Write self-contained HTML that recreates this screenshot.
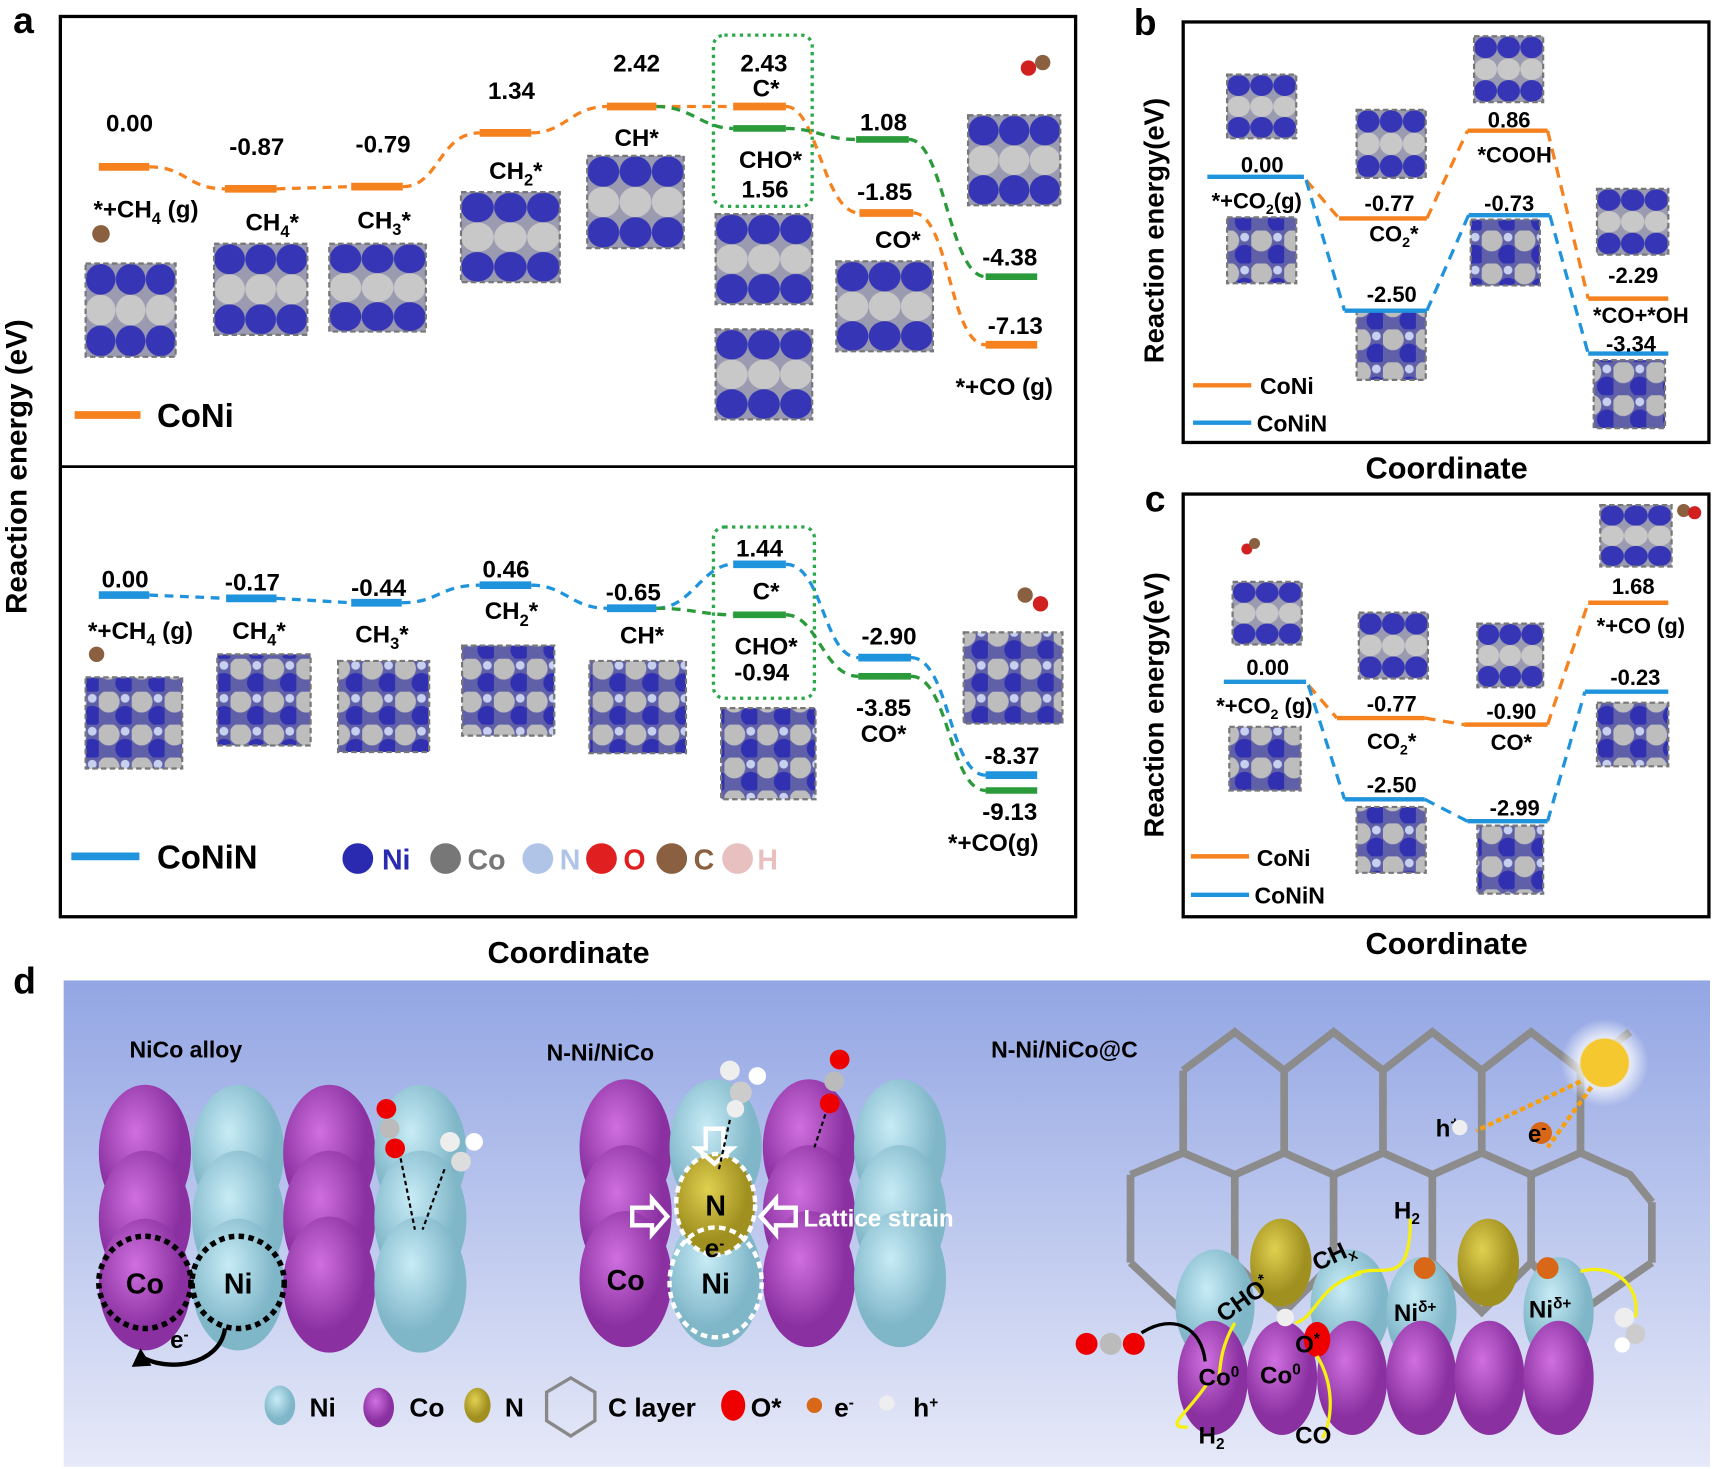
<!DOCTYPE html>
<html><head><meta charset="utf-8"><style>html,body{margin:0;padding:0;background:#fff}svg{display:block}text{font-family:"Liberation Sans",Arial,sans-serif;font-weight:bold;fill:#000}</style></head>
<body>
<svg width="1721" height="1469" viewBox="0 0 1568 1338" preserveAspectRatio="none" xmlns="http://www.w3.org/2000/svg">
<defs>
<pattern id="s1" width="0.3333" height="1" patternUnits="objectBoundingBox" patternContentUnits="objectBoundingBox"><rect width="0.3333" height="1" fill="#9a9ab0"/><ellipse cx="0.1667" cy="0.17" rx="0.165" ry="0.165" fill="#3535b5"/><ellipse cx="0.1667" cy="0.5" rx="0.165" ry="0.165" fill="#c8c8c8"/><ellipse cx="0.1667" cy="0.83" rx="0.165" ry="0.165" fill="#3535b5"/></pattern>
<pattern id="s2" width="30" height="30" patternUnits="userSpaceOnUse"><rect width="30" height="30" fill="#6060a8"/><circle cx="9" cy="9" r="10" fill="#bdbdbd"/><circle cx="24" cy="22" r="9" fill="#3030b0"/><circle cx="24" cy="6" r="4" fill="#c8d0f0"/></pattern>
<radialGradient id="gp" cx="40%" cy="35%"><stop offset="0" stop-color="#d070e0"/><stop offset="1" stop-color="#8a30a0"/></radialGradient>
<radialGradient id="gb" cx="40%" cy="35%"><stop offset="0" stop-color="#c8ecf6"/><stop offset="1" stop-color="#7fb6c8"/></radialGradient>
<radialGradient id="gy" cx="40%" cy="35%"><stop offset="0" stop-color="#e0d050"/><stop offset="1" stop-color="#a09020"/></radialGradient>
<radialGradient id="gs" cx="50%" cy="50%"><stop offset="0" stop-color="#fff8c0"/><stop offset="0.4" stop-color="#f5cc30"/><stop offset="0.6" stop-color="#fff" stop-opacity="0.7"/><stop offset="1" stop-color="#fff" stop-opacity="0"/></radialGradient>
<linearGradient id="bg" x1="0" y1="0" x2="0" y2="1"><stop offset="0" stop-color="#93a6e4"/><stop offset="1" stop-color="#e6e9f8"/></linearGradient>
</defs>

<!-- Panel a -->
<text x="12" y="30" font-size="34">a</text>
<rect x="55" y="15" width="925" height="820" fill="none" stroke="#000" stroke-width="3"/>
<line x1="55" y1="425" x2="980" y2="425" stroke="#000" stroke-width="2.5"/>
<text transform="translate(24,425) rotate(-90)" text-anchor="middle" font-size="27">Reaction energy (eV)</text>
<text x="518" y="877" text-anchor="middle" font-size="28">Coordinate</text>

<g fill="url(#s1)" stroke="#777" stroke-width="2" stroke-dasharray="5,3">
<rect x="78" y="240" width="82" height="85"/><rect x="195" y="222" width="85" height="83"/><rect x="300" y="222" width="88" height="80"/><rect x="420" y="175" width="90" height="82"/><rect x="535" y="142" width="88" height="84"/><rect x="652" y="195" width="88" height="82"/><rect x="652" y="300" width="88" height="82"/><rect x="762" y="238" width="88" height="82"/><rect x="882" y="105" width="84" height="82"/>
</g>
<g fill="url(#s2)" stroke="#777" stroke-width="2" stroke-dasharray="5,3">
<rect x="78" y="617" width="88" height="83"/><rect x="198" y="596" width="85" height="83"/><rect x="308" y="602" width="83" height="83"/><rect x="421" y="588" width="84" height="82"/><rect x="537" y="602" width="88" height="84"/><rect x="657" y="645" width="86" height="83"/><rect x="878" y="576" width="90" height="83"/>
</g>
<rect x="650" y="32" width="90" height="156" rx="10" fill="none" stroke="#2aa84a" stroke-width="3" stroke-dasharray="3,4"/>
<rect x="650" y="480" width="92" height="156" rx="10" fill="none" stroke="#2aa84a" stroke-width="3" stroke-dasharray="3,4"/>

<g fill="none" stroke-width="3" stroke-dasharray="8,6">
<path d="M136,152 C170,152 170,172 205,172 M252,172 L320,170 M367,170 C400,170 400,121 437,121 M484,121 C515,121 520,97 553,97 M598,97 L668,97 M716,97 C745,97 750,194 783,194 M832,194 C865,194 865,314 898,314" stroke="#f5821f"/>
<path d="M598,97 C630,97 640,117 668,117 M716,117 C745,117 750,127 780,127 M828,127 C860,127 865,252 898,252" stroke="#2a9a3a"/>
<path d="M136,542 L206,545 M252,545 L320,549 M366,549 C400,549 400,533 437,533 M484,533 C515,533 520,554 553,554 M598,554 C630,554 640,514 668,514 M716,514 C750,514 750,599 782,599 M830,599 C865,599 865,706 898,706" stroke="#1f93dc"/>
<path d="M598,554 C630,554 640,560 668,560 M716,560 C745,560 750,616 782,616 M830,616 C865,616 865,720 898,720" stroke="#2a9a3a"/>
</g>
<g stroke-width="7" stroke="#f5821f">
<line x1="90" y1="152" x2="136" y2="152"/><line x1="205" y1="172" x2="252" y2="172"/><line x1="320" y1="170" x2="367" y2="170"/><line x1="437" y1="121" x2="484" y2="121"/><line x1="553" y1="97" x2="598" y2="97"/><line x1="668" y1="97" x2="716" y2="97"/><line x1="783" y1="194" x2="832" y2="194"/><line x1="898" y1="314" x2="945" y2="314"/><line x1="68" y1="378" x2="128" y2="378"/>
</g>
<g stroke-width="6" stroke="#2a9a3a"><line x1="668" y1="117" x2="716" y2="117"/><line x1="780" y1="127" x2="828" y2="127"/><line x1="898" y1="252" x2="945" y2="252"/><line x1="668" y1="560" x2="716" y2="560"/><line x1="782" y1="616" x2="830" y2="616"/><line x1="898" y1="720" x2="945" y2="720"/></g>
<g stroke-width="7" stroke="#1f93dc"><line x1="90" y1="542" x2="136" y2="542"/><line x1="206" y1="545" x2="252" y2="545"/><line x1="320" y1="549" x2="366" y2="549"/><line x1="437" y1="533" x2="484" y2="533"/><line x1="553" y1="554" x2="598" y2="554"/><line x1="668" y1="514" x2="716" y2="514"/><line x1="782" y1="599" x2="830" y2="599"/><line x1="898" y1="706" x2="945" y2="706"/><line x1="65" y1="780" x2="127" y2="780"/></g>

<g font-size="22" text-anchor="middle">
<text x="118" y="120">0.00</text><text x="234" y="141">-0.87</text><text x="349" y="139">-0.79</text><text x="466" y="90">1.34</text><text x="580" y="65">2.42</text><text x="696" y="65">2.43</text><text x="698" y="88">C*</text><text x="702" y="153">CHO*</text><text x="697" y="180">1.56</text><text x="805" y="119">1.08</text><text x="806" y="182">-1.85</text><text x="818" y="226">CO*</text><text x="920" y="242">-4.38</text><text x="925" y="304">-7.13</text><text x="915" y="360">*+CO (g)</text>
<text x="133" y="198">*+CH<tspan font-size="15" dy="6">4</tspan><tspan dy="-6"> (g)</tspan></text><text x="248" y="210">CH<tspan font-size="15" dy="6">4</tspan><tspan dy="-6">*</tspan></text><text x="350" y="208">CH<tspan font-size="15" dy="6">3</tspan><tspan dy="-6">*</tspan></text><text x="470" y="163">CH<tspan font-size="15" dy="6">2</tspan><tspan dy="-6">*</tspan></text><text x="580" y="133">CH*</text>
<text x="114" y="535">0.00</text><text x="230" y="538">-0.17</text><text x="345" y="543">-0.44</text><text x="461" y="526">0.46</text><text x="577" y="547">-0.65</text><text x="692" y="507">1.44</text><text x="698" y="546">C*</text><text x="698" y="596">CHO*</text><text x="694" y="620">-0.94</text><text x="810" y="587">-2.90</text><text x="805" y="652">-3.85</text><text x="805" y="676">CO*</text><text x="922" y="696">-8.37</text><text x="920" y="747">-9.13</text><text x="905" y="775">*+CO(g)</text>
<text x="128" y="582">*+CH<tspan font-size="15" dy="6">4</tspan><tspan dy="-6"> (g)</tspan></text><text x="236" y="582">CH<tspan font-size="15" dy="6">4</tspan><tspan dy="-6">*</tspan></text><text x="348" y="585">CH<tspan font-size="15" dy="6">3</tspan><tspan dy="-6">*</tspan></text><text x="466" y="564">CH<tspan font-size="15" dy="6">2</tspan><tspan dy="-6">*</tspan></text><text x="585" y="586">CH*</text>
</g>
<text x="143" y="389" font-size="30">CoNi</text>
<text x="143" y="791" font-size="30">CoNiN</text>
<g font-size="26"><circle cx="326" cy="782" r="14" fill="#2a2ab0"/><text x="348" y="792" style="fill:#2a2ab0">Ni</text>
<circle cx="406" cy="782" r="14" fill="#777"/><text x="426" y="792" style="fill:#777">Co</text>
<circle cx="490" cy="782" r="14" fill="#b0c4e8"/><text x="510" y="792" style="fill:#b0c4e8">N</text>
<circle cx="548" cy="782" r="14" fill="#e02020"/><text x="568" y="792" style="fill:#e02020">O</text>
<circle cx="612" cy="782" r="14" fill="#8a6040"/><text x="632" y="792" style="fill:#8a6040">C</text>
<circle cx="672" cy="782" r="14" fill="#e8c0c0"/><text x="690" y="792" style="fill:#e8c0c0">H</text></g>
<circle cx="937" cy="62" r="7" fill="#d02020"/><circle cx="950" cy="57" r="7" fill="#8a6040"/>
<circle cx="934" cy="542" r="7" fill="#8a6040"/><circle cx="948" cy="550" r="7" fill="#d02020"/>
<circle cx="92" cy="213" r="8" fill="#8a6040"/><circle cx="88" cy="596" r="7" fill="#8a6040"/>

<!-- Panel b -->
<text x="1033" y="32" font-size="34">b</text>
<rect x="1078" y="20" width="479" height="383" fill="none" stroke="#000" stroke-width="3"/>
<text transform="translate(1060,210) rotate(-90)" text-anchor="middle" font-size="25">Reaction energy(eV)</text>
<text x="1318" y="436" text-anchor="middle" font-size="28">Coordinate</text>
<g stroke="#777" stroke-width="2" stroke-dasharray="5,3"><rect x="1118" y="68" width="63" height="58" fill="url(#s1)"/><rect x="1118" y="198" width="63" height="60" fill="url(#s2)"/><rect x="1236" y="100" width="63" height="62" fill="url(#s1)"/><rect x="1236" y="283" width="63" height="63" fill="url(#s2)"/><rect x="1343" y="33" width="63" height="60" fill="url(#s1)"/><rect x="1340" y="200" width="63" height="60" fill="url(#s2)"/><rect x="1455" y="172" width="65" height="60" fill="url(#s1)"/><rect x="1452" y="328" width="65" height="62" fill="url(#s2)"/></g>
<g fill="none" stroke-width="3" stroke-dasharray="10,7"><path d="M1190,164 L1220,199 M1300,199 L1337,119 M1410,119 L1447,272" stroke="#f5821f"/><path d="M1190,164 L1225,283 M1300,283 L1338,196 M1412,196 L1447,322" stroke="#1f93dc"/></g>
<g stroke-width="4"><line x1="1100" y1="161" x2="1188" y2="161" stroke="#1f93dc"/><line x1="1220" y1="199" x2="1300" y2="199" stroke="#f5821f"/><line x1="1337" y1="119" x2="1410" y2="119" stroke="#f5821f"/><line x1="1447" y1="272" x2="1520" y2="272" stroke="#f5821f"/><line x1="1225" y1="283" x2="1300" y2="283" stroke="#1f93dc"/><line x1="1338" y1="196" x2="1412" y2="196" stroke="#1f93dc"/><line x1="1447" y1="322" x2="1520" y2="322" stroke="#1f93dc"/><line x1="1087" y1="351" x2="1140" y2="351" stroke="#f5821f"/><line x1="1087" y1="385" x2="1140" y2="385" stroke="#1f93dc"/></g>
<g font-size="20" text-anchor="middle"><text x="1150" y="157">0.00</text><text x="1145" y="190">*+CO<tspan font-size="13" dy="5">2</tspan><tspan dy="-5">(g)</tspan></text><text x="1266" y="192">-0.77</text><text x="1270" y="220">CO<tspan font-size="13" dy="5">2</tspan><tspan dy="-5">*</tspan></text><text x="1375" y="116">0.86</text><text x="1380" y="148">*COOH</text><text x="1375" y="192">-0.73</text><text x="1268" y="275">-2.50</text><text x="1488" y="258">-2.29</text><text x="1495" y="294">*CO+*OH</text><text x="1486" y="320">-3.34</text></g>
<text x="1148" y="359" font-size="21">CoNi</text><text x="1145" y="393" font-size="21">CoNiN</text>

<!-- Panel c -->
<text x="1043" y="466" font-size="34">c</text>
<rect x="1078" y="450" width="479" height="385" fill="none" stroke="#000" stroke-width="3"/>
<text transform="translate(1060,642) rotate(-90)" text-anchor="middle" font-size="25">Reaction energy(eV)</text>
<text x="1318" y="869" text-anchor="middle" font-size="28">Coordinate</text>
<g stroke="#777" stroke-width="2" stroke-dasharray="5,3"><rect x="1123" y="530" width="63" height="57" fill="url(#s1)"/><rect x="1120" y="662" width="65" height="58" fill="url(#s2)"/><rect x="1238" y="558" width="63" height="60" fill="url(#s1)"/><rect x="1236" y="735" width="63" height="60" fill="url(#s2)"/><rect x="1346" y="568" width="60" height="58" fill="url(#s1)"/><rect x="1346" y="752" width="60" height="62" fill="url(#s2)"/><rect x="1458" y="460" width="65" height="56" fill="url(#s1)"/><rect x="1455" y="640" width="65" height="58" fill="url(#s2)"/></g>
<g fill="none" stroke-width="3" stroke-dasharray="10,7"><path d="M1192,624 L1218,654 M1298,654 L1334,660 M1410,660 L1447,549" stroke="#f5821f"/><path d="M1192,624 L1225,728 M1298,728 L1337,748 M1410,748 L1444,630" stroke="#1f93dc"/></g>
<g stroke-width="4"><line x1="1115" y1="621" x2="1190" y2="621" stroke="#1f93dc"/><line x1="1218" y1="654" x2="1298" y2="654" stroke="#f5821f"/><line x1="1334" y1="660" x2="1410" y2="660" stroke="#f5821f"/><line x1="1447" y1="549" x2="1520" y2="549" stroke="#f5821f"/><line x1="1225" y1="728" x2="1298" y2="728" stroke="#1f93dc"/><line x1="1337" y1="748" x2="1410" y2="748" stroke="#1f93dc"/><line x1="1444" y1="630" x2="1520" y2="630" stroke="#1f93dc"/><line x1="1085" y1="780" x2="1138" y2="780" stroke="#f5821f"/><line x1="1085" y1="815" x2="1138" y2="815" stroke="#1f93dc"/></g>
<g font-size="20" text-anchor="middle"><text x="1155" y="615">0.00</text><text x="1152" y="650">*+CO<tspan font-size="13" dy="5">2</tspan><tspan dy="-5"> (g)</tspan></text><text x="1268" y="648">-0.77</text><text x="1268" y="682">CO<tspan font-size="13" dy="5">2</tspan><tspan dy="-5">*</tspan></text><text x="1377" y="655">-0.90</text><text x="1377" y="683">CO*</text><text x="1488" y="541">1.68</text><text x="1495" y="577">*+CO (g)</text><text x="1490" y="624">-0.23</text><text x="1268" y="722">-2.50</text><text x="1380" y="743">-2.99</text></g>
<text x="1145" y="789" font-size="21">CoNi</text><text x="1143" y="823" font-size="21">CoNiN</text>
<circle cx="1136" cy="500" r="5" fill="#d02020"/><circle cx="1143" cy="495" r="5" fill="#8a6040"/><circle cx="1534" cy="465" r="6" fill="#8a6040"/><circle cx="1544" cy="467" r="6" fill="#d02020"/>

<!-- Panel d -->
<text x="12" y="905" font-size="34">d</text>
<rect x="58" y="893" width="1500" height="443" fill="url(#bg)"/>
<g font-size="21"><text x="118" y="963">NiCo alloy</text><text x="498" y="966">N-Ni/NiCo</text><text x="903" y="963">N-Ni/NiCo@C</text></g>
<g>
<ellipse cx="132" cy="1050" rx="42" ry="62" fill="url(#gp)"/><ellipse cx="217" cy="1050" rx="42" ry="62" fill="url(#gb)"/><ellipse cx="300" cy="1050" rx="42" ry="62" fill="url(#gp)"/><ellipse cx="383" cy="1050" rx="42" ry="62" fill="url(#gb)"/>
<ellipse cx="132" cy="1110" rx="42" ry="62" fill="url(#gp)"/><ellipse cx="217" cy="1110" rx="42" ry="62" fill="url(#gb)"/><ellipse cx="300" cy="1110" rx="42" ry="62" fill="url(#gp)"/><ellipse cx="383" cy="1110" rx="42" ry="62" fill="url(#gb)"/>
<ellipse cx="132" cy="1170" rx="42" ry="60" fill="url(#gp)"/><ellipse cx="217" cy="1170" rx="42" ry="60" fill="url(#gb)"/><ellipse cx="300" cy="1170" rx="42" ry="62" fill="url(#gp)"/><ellipse cx="383" cy="1170" rx="42" ry="62" fill="url(#gb)"/>
<circle cx="132" cy="1168" r="42" fill="none" stroke="#000" stroke-width="5" stroke-dasharray="5,4"/><circle cx="217" cy="1168" r="42" fill="none" stroke="#000" stroke-width="5" stroke-dasharray="5,4"/>
<text x="132" y="1178" text-anchor="middle" font-size="26">Co</text><text x="217" y="1178" text-anchor="middle" font-size="26">Ni</text>
<path d="M205,1210 C200,1245 150,1250 128,1235" fill="none" stroke="#000" stroke-width="4"/><path d="M120,1245 L128,1228 L138,1244 Z" fill="#000"/>
<text x="155" y="1228" font-size="22">e<tspan font-size="14" dy="-8">-</tspan></text>
<circle cx="352" cy="1010" r="9" fill="#e00"/><circle cx="355" cy="1028" r="9" fill="#bbb"/><circle cx="360" cy="1046" r="9" fill="#e00"/>
<circle cx="410" cy="1040" r="9" fill="#eee"/><circle cx="420" cy="1058" r="9" fill="#ddd"/><circle cx="432" cy="1040" r="8" fill="#fff"/>
<path d="M365,1055 L378,1120 M405,1065 L385,1120" stroke="#000" stroke-width="2" stroke-dasharray="4,3"/>
</g>
<g>
<ellipse cx="570" cy="1045" rx="42" ry="62" fill="url(#gp)"/><ellipse cx="652" cy="1045" rx="42" ry="62" fill="url(#gb)"/><ellipse cx="737" cy="1045" rx="42" ry="62" fill="url(#gp)"/><ellipse cx="820" cy="1045" rx="42" ry="62" fill="url(#gb)"/>
<ellipse cx="570" cy="1105" rx="42" ry="62" fill="url(#gp)"/><ellipse cx="737" cy="1105" rx="42" ry="62" fill="url(#gp)"/><ellipse cx="820" cy="1105" rx="42" ry="62" fill="url(#gb)"/>
<ellipse cx="570" cy="1165" rx="42" ry="62" fill="url(#gp)"/><ellipse cx="652" cy="1165" rx="42" ry="62" fill="url(#gb)"/><ellipse cx="737" cy="1165" rx="42" ry="62" fill="url(#gp)"/><ellipse cx="820" cy="1165" rx="42" ry="62" fill="url(#gb)"/>
<ellipse cx="652" cy="1097" rx="36" ry="46" fill="url(#gy)" stroke="#fff" stroke-width="4" stroke-dasharray="6,4"/>
<ellipse cx="652" cy="1168" rx="42" ry="50" fill="none" stroke="#fff" stroke-width="4" stroke-dasharray="6,4"/>
<text x="652" y="1107" text-anchor="middle" font-size="26">N</text><text x="652" y="1178" text-anchor="middle" font-size="26">Ni</text><text x="570" y="1175" text-anchor="middle" font-size="26">Co</text>
<text x="642" y="1145" font-size="24">e<tspan font-size="14" dy="-8">-</tspan></text>
<path d="M643,1028 h16 v18 h8 l-16,14 l-16,-14 h8 z" fill="none" stroke="#fff" stroke-width="4"/>
<path d="M576,1100 h18 v-8 l14,16 l-14,16 v-8 h-18 z" fill="none" stroke="#fff" stroke-width="4"/>
<path d="M725,1100 h-18 v-8 l-14,16 l14,16 v-8 h18 z" fill="none" stroke="#fff" stroke-width="4"/>
<text x="732" y="1117" font-size="22" style="fill:#fff">Lattice strain</text>
<circle cx="665" cy="975" r="9" fill="#eee"/><circle cx="675" cy="995" r="10" fill="#ccc"/><circle cx="690" cy="980" r="8" fill="#fff"/><circle cx="670" cy="1010" r="8" fill="#eee"/>
<circle cx="765" cy="965" r="9" fill="#e00"/><circle cx="760" cy="985" r="9" fill="#bbb"/><circle cx="756" cy="1005" r="9" fill="#e00"/>
<path d="M665,1020 L655,1065 M752,1015 L742,1045" stroke="#000" stroke-width="2" stroke-dasharray="4,3"/>
</g>
<g fill="none" stroke="#8c8c8c" stroke-width="7" transform="translate(0,-15)">
<path d="M1078,990 L1125,955 L1170,990 L1215,955 L1260,990 L1305,955 L1350,990 L1395,955 L1440,990 L1485,955"/>
<path d="M1078,990 V1065 M1170,990 V1065 M1260,990 V1065 M1350,990 V1065 M1440,990 V1065"/>
<path d="M1030,1085 L1078,1065 L1125,1085 L1170,1065 L1215,1085 L1260,1065 L1305,1085 L1350,1065 L1395,1085 L1440,1065 L1485,1085 L1505,1110"/>
<path d="M1030,1085 V1165 M1125,1085 V1165 M1215,1085 V1165 M1305,1085 V1165 M1395,1085 V1165 M1505,1110 V1165"/>
<path d="M1030,1165 L1078,1210 L1125,1165 L1170,1210 L1215,1165 L1260,1210 L1305,1165 L1350,1210 L1395,1165 L1440,1210 L1505,1165"/>
</g>
<circle cx="1462" cy="968" r="40" fill="url(#gs)"/><circle cx="1462" cy="968" r="22" fill="#f5c830"/>
<path d="M1440,985 L1345,1030 M1450,990 L1410,1045" stroke="#f5a010" stroke-width="4" stroke-dasharray="5,3"/>
<text x="1308" y="1035" font-size="22">h<tspan font-size="14" dy="-8">+</tspan></text><circle cx="1330" cy="1027" r="7" fill="#eee"/>
<circle cx="1404" cy="1032" r="10" fill="#d86818"/><text x="1392" y="1040" font-size="22">e<tspan font-size="14" dy="-8">-</tspan></text>
<g>
<ellipse cx="1107" cy="1190" rx="36" ry="52" fill="url(#gb)"/><ellipse cx="1230" cy="1190" rx="36" ry="52" fill="url(#gb)"/><ellipse cx="1295" cy="1195" rx="32" ry="50" fill="url(#gb)"/><ellipse cx="1420" cy="1195" rx="32" ry="50" fill="url(#gb)"/>
<ellipse cx="1167" cy="1150" rx="28" ry="40" fill="url(#gy)"/><ellipse cx="1356" cy="1150" rx="28" ry="40" fill="url(#gy)"/>
<ellipse cx="1105" cy="1255" rx="32" ry="52" fill="url(#gp)"/><ellipse cx="1168" cy="1255" rx="32" ry="52" fill="url(#gp)"/><ellipse cx="1232" cy="1255" rx="32" ry="52" fill="url(#gp)"/><ellipse cx="1295" cy="1255" rx="32" ry="52" fill="url(#gp)"/><ellipse cx="1357" cy="1255" rx="32" ry="52" fill="url(#gp)"/><ellipse cx="1420" cy="1255" rx="32" ry="52" fill="url(#gp)"/>
<circle cx="1298" cy="1155" r="10" fill="#d86818"/><circle cx="1410" cy="1155" r="10" fill="#d86818"/><ellipse cx="1200" cy="1220" rx="12" ry="16" fill="#e00"/><circle cx="1171" cy="1200" r="8" fill="#eee"/>
<circle cx="990" cy="1224" r="10" fill="#e00"/><circle cx="1012" cy="1224" r="10" fill="#bbb"/><circle cx="1033" cy="1224" r="10" fill="#e00"/>
<circle cx="1480" cy="1200" r="9" fill="#eee"/><circle cx="1490" cy="1215" r="9" fill="#ccc"/><circle cx="1478" cy="1225" r="7" fill="#fff"/>
<path d="M1040,1214 C1070,1195 1095,1210 1098,1240" fill="none" stroke="#000" stroke-width="3"/>
<g fill="none" stroke="#f5f010" stroke-width="3"><path d="M1240,1160 C1200,1170 1200,1200 1180,1205 M1235,1160 C1260,1150 1285,1175 1285,1110 M1490,1200 C1495,1170 1470,1150 1440,1158 M1100,1260 C1080,1290 1060,1300 1082,1300 M1200,1235 C1215,1260 1215,1290 1205,1310 M1125,1205 C1110,1230 1112,1250 1110,1260"/></g>
<g font-size="22"><text x="1092" y="1262">Co<tspan font-size="14" dy="-8">0</tspan></text><text x="1148" y="1260">Co<tspan font-size="14" dy="-8">0</tspan></text><text x="1270" y="1203">Ni<tspan font-size="14" dy="-8">δ+</tspan></text><text x="1393" y="1200">Ni<tspan font-size="14" dy="-8">δ+</tspan></text><text x="1180" y="1232">O<tspan font-size="14" dy="-8">*</tspan></text><text x="1270" y="1110">H<tspan font-size="14" dy="5">2</tspan></text><text x="1092" y="1315">H<tspan font-size="14" dy="5">2</tspan></text><text x="1180" y="1315">CO</text>
<text transform="translate(1115,1205) rotate(-35)">CHO<tspan font-size="14" dy="-8">*</tspan></text><text transform="translate(1200,1158) rotate(-25)">CH<tspan font-size="14" dy="5">x</tspan></text></g>
</g>
<g font-size="24">
<ellipse cx="255" cy="1280" rx="14" ry="18" fill="url(#gb)"/><text x="282" y="1290">Ni</text>
<ellipse cx="345" cy="1282" rx="14" ry="18" fill="url(#gp)"/><text x="373" y="1290">Co</text>
<ellipse cx="435" cy="1280" rx="12" ry="16" fill="url(#gy)"/><text x="460" y="1290">N</text>
<path d="M520,1255 L542,1268 V1294 L520,1308 L498,1294 V1268 Z" fill="none" stroke="#888" stroke-width="3"/><text x="554" y="1290">C layer</text>
<ellipse cx="668" cy="1280" rx="11" ry="14" fill="#e00"/><text x="684" y="1290">O*</text>
<circle cx="742" cy="1280" r="7" fill="#d86818"/><text x="760" y="1290">e<tspan font-size="14" dy="-8">-</tspan></text>
<circle cx="808" cy="1278" r="7" fill="#eee"/><text x="832" y="1290">h<tspan font-size="14" dy="-8">+</tspan></text>
</g>
</svg>
</body></html>
